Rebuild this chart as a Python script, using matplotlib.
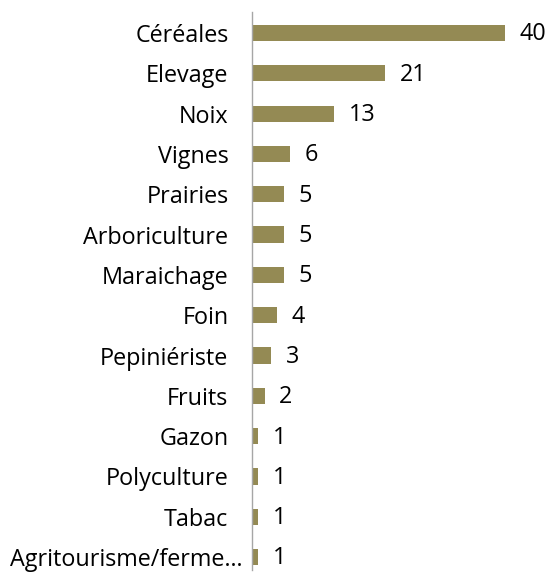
import matplotlib
matplotlib.use("Agg")
import matplotlib.pyplot as plt
from matplotlib.transforms import ScaledTranslation

categories = ["Céréales", "Elevage", "Noix", "Vignes", "Prairies", "Arboriculture",
              "Maraichage", "Foin", "Pepiniériste", "Fruits", "Gazon", "Polyculture",
              "Tabac", "Agritourisme/ferme…"]
values = [40, 21, 13, 6, 5, 5, 5, 4, 3, 2, 1, 1, 1, 1]

plt.rcParams['font.family'] = ['Open Sans', 'DejaVu Sans']

fig = plt.figure(figsize=(5.5, 5.72), dpi=100)
W, H = 550, 572
ax = fig.add_axes([252 / W, (H - 570) / H, (550 - 252) / W, (570 - 12) / H])

y = list(range(len(categories)))
ax.barh(y, values, height=0.4, color="#948A54")
ax.set_ylim(13.32, -0.52)
ax.set_xlim(0, 47.1)

ax.set_yticks(y)
ax.set_yticklabels(categories, fontsize=16.8, color="#000000")
ax.tick_params(axis="y", length=0, pad=17)
ax.set_xticks([])
for s in ["top", "right", "bottom"]:
    ax.spines[s].set_visible(False)
ax.spines["left"].set_color("#A6A6A6")
ax.spines["left"].set_linewidth(1)

# last label overflows slightly to the right as in the reference
last = ax.get_yticklabels()[-1]
last.set_transform(last.get_transform() + ScaledTranslation(14 / 100, 0, fig.dpi_scale_trans))

for yi, v in zip(y, values):
    ax.annotate(str(v), (v, yi), xytext=(10.5, -1), textcoords="offset points",
                va="center", ha="left", fontsize=16.8, color="#000000")

fig.savefig("out.png", dpi=100)
